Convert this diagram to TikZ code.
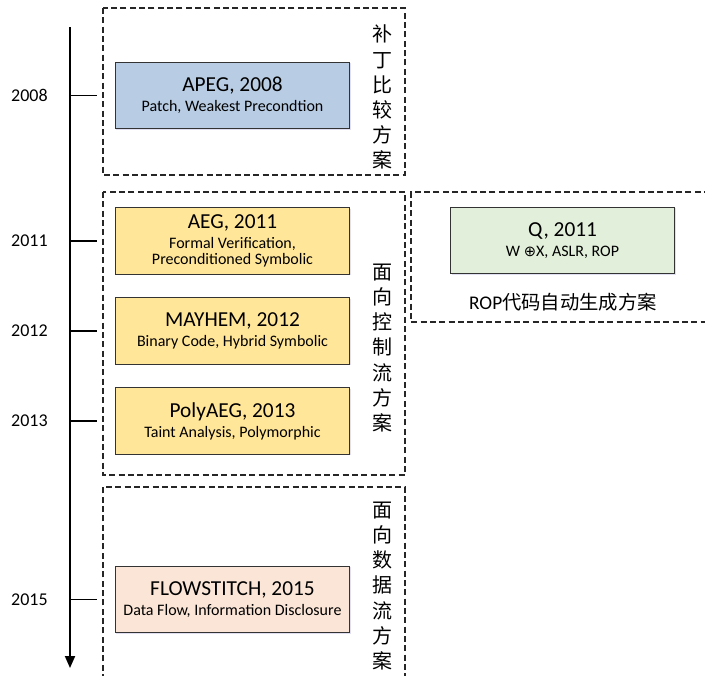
\documentclass[tikz,border=0pt]{standalone}
\usepackage{fontspec}
\setmainfont{Carlito}
\newfontfamily\cjk{Noto Sans CJK SC}
\newfontfamily\symf{DejaVu Sans}
\usepackage{tikz}
\usepackage{xcolor}
\usetikzlibrary{arrows.meta,shadows}

\definecolor{apegblue}{HTML}{B8CCE4}
\definecolor{ctrlgold}{HTML}{FFE699}
\definecolor{ropgreen}{HTML}{E2EFDA}
\definecolor{datapeach}{HTML}{FBE5D6}

\newcommand{\subf}{\fontsize{12}{15}\selectfont}
\newcommand{\systxt}[2]{\fontsize{16}{19}\selectfont #1\\[3pt]\subf #2}

\tikzset{
  sys/.style={draw=black!80,line width=0.9pt,minimum width=176pt,minimum height=50pt,
    align=center,inner sep=2pt,
    drop shadow={shadow xshift=0.8pt,shadow yshift=-0.8pt,opacity=0.18,fill=blue!40!gray}},
  grp/.style={draw=black!85,line width=0.8pt,dash pattern=on 4.5pt off 2.5pt},
  vlabel/.style={align=center,font=\cjk\fontsize{15}{18.8}\selectfont,inner sep=0pt},
  year/.style={font=\fontsize{13.5}{16}\selectfont,inner sep=0pt}
}

\begin{document}
\begin{tikzpicture}[x=0.75pt,y=-0.75pt,line cap=butt,line join=miter]
\useasboundingbox (0,0) rectangle (705,675);

% groups
\draw[grp] (103,8) rectangle (405,175);
\draw[grp] (103,192) rectangle (405,475);
\draw[grp] (710,192) -- (411,192) -- (411,322) -- (710,322);
\draw[grp] (103,680) -- (103,487) -- (405,487) -- (405,680);

\node[vlabel] (patchlbl) at (382,97) {补\\丁\\比\\较\\方\\案};
\node[vlabel] (ctrllbl) at (382,348) {面\\向\\控\\制\\流\\方\\案};
\node[vlabel] (datalbl) at (382,586) {面\\向\\数\\据\\流\\方\\案};
\node[font=\fontsize{14.5}{17}\selectfont,inner sep=0pt] (roplbl) at (563,302) {ROP\cjk 代码自动生成方案};

% systems
\node[sys,fill=apegblue] (apeg) at (232.5,95.5) {\systxt{APEG, 2008}{Patch, Weakest Precondtion}};
\node[sys,fill=ctrlgold] (aeg) at (232.5,241) {\systxt{AEG, 2011}{Formal Verification,\\\subf Preconditioned Symbolic}};
\node[sys,fill=ctrlgold] (mayhem) at (232.5,331) {\systxt{MAYHEM, 2012}{Binary Code, Hybrid Symbolic}};
\node[sys,fill=ctrlgold] (polyaeg) at (232.5,421) {\systxt{PolyAEG, 2013}{Taint Analysis, Polymorphic}};
\node[sys,fill=ropgreen,minimum width=168pt] (q) at (562.5,240.5) {\systxt{Q, 2011}{W {\symf\fontsize{11}{12}\selectfont ⊕}X, ASLR, ROP}};
\node[sys,fill=datapeach] (flow) at (232.5,599.5) {\systxt{FLOWSTITCH, 2015}{Data Flow, Information Disclosure}};

% timeline
\coordinate (top) at (70,27);
\coordinate (bottom) at (70,668);
\draw[line width=1.4pt,-{Triangle[width=7.5pt,length=9pt]}] (top) -- (bottom);

\foreach \n/\y in {apeg/2008,aeg/2011,mayhem/2012,polyaeg/2013,flow/2015} {
  \draw[line width=1.4pt] (\n.west -| top) -- ([xshift=-13.5pt]\n.west);
  \node[year,anchor=east] (y\y) at ([xshift=-16.5pt]\n.west -| top) {\y};
}
\end{tikzpicture}
\end{document}
